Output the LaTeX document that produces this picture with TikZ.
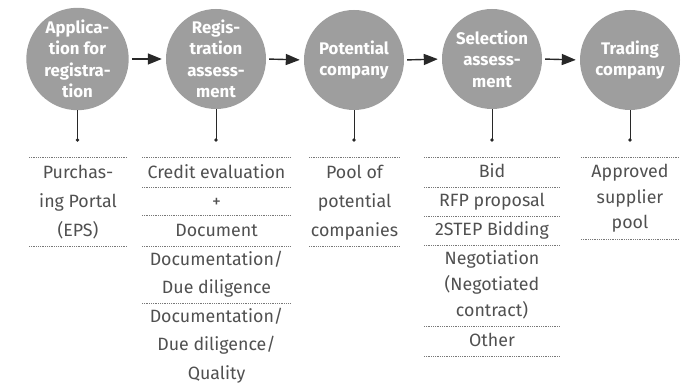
\documentclass[tikz,border=0pt]{standalone}
\usepackage{fontspec}
\setmainfont{Fira Sans}
\usetikzlibrary{arrows.meta}
\definecolor{circfill}{RGB}{158,158,158}
\definecolor{tabtext}{RGB}{80,80,80}
\definecolor{dotline}{RGB}{120,120,120}
\definecolor{darkline}{RGB}{40,40,40}
\tikzset{
  stage/.style={circle, fill=circfill, minimum size=100pt, inner sep=0pt,
    text=white, align=center, font=\bfseries\fontsize{16.8}{21.5}\selectfont},
  flowarrow/.style={draw=darkline, line width=1.4pt,
    -{Triangle[length=14pt,width=11pt]}, shorten <=3pt, shorten >=4pt},
  stem/.style={draw=darkline, line width=1pt},
  dotend/.style={circle, fill=darkline, inner sep=0pt, minimum size=3.6pt},
  rowline/.style={draw=dotline, line width=0.8pt, dash pattern=on 0.9pt off 0.9pt},
  cell/.style={anchor=base, inner sep=0pt, text=tabtext, font=\fontsize{17.8}{20}\selectfont}
}
\begin{document}
\begin{tikzpicture}[x=1pt,y=-1pt]
\useasboundingbox (0,0) rectangle (692,387);
% stages
\node[stage] (s1) at (77.5,59) {Applica-\\tion for\\registra-\\tion};
\node[stage] (s2) at (216,59) {Regis-\\tration\\assess-\\ment};
\node[stage] (s3) at (354,60) {Potential\\company};
\node[stage] (s4) at (492,59) {Selection\\assess-\\ment};
\node[stage] (s5) at (630,60) {Trading\\company};
\foreach \a/\b in {s1/s2,s2/s3,s3/s4,s4/s5}
  \draw[flowarrow] (\a.east) -- (\b.west);
% stems
\foreach \s/\x in {s1/77.5,s2/216,s3/354,s4/492,s5/630}{
  \node[dotend] (d\s) at (\x,140) {};
  \draw[stem] (\s.south) -- (d\s.center);
}
% column 1
\draw[rowline] (29,157) -- (127,157);
\node[cell] (a1) at (78,178.3) {Purchas-};
\node[cell] (a2) at (78,207.3) {ing Portal};
\node[cell] (a3) at (78,236) {(EPS)};
\draw[rowline] (29,246) -- (127,246);
% column 2
\draw[rowline] (142,157) -- (291,157);
\node[cell] (b1) at (216.5,178.3) {Credit evaluation};
\draw[rowline] (142,187.7) -- (291,187.7);
\node[cell] (b2) at (216.5,207.3) {+};
\draw[rowline] (142,215.7) -- (291,215.7);
\node[cell] (b3) at (216.5,236.3) {Document};
\draw[rowline] (142,246) -- (291,246);
\node[cell] (b4) at (216.5,265) {Documentation/};
\node[cell] (b5) at (216.5,293.5) {Due diligence};
\draw[rowline] (142,303.3) -- (291,303.3);
\node[cell] (b6) at (216.5,322) {Documentation/};
\node[cell] (b7) at (216.5,350.5) {Due diligence/};
\node[cell] (b8) at (216.5,379) {Quality};
% column 3
\draw[rowline] (309,157) -- (400,157);
\node[cell] (c1) at (354.5,178.3) {Pool of};
\node[cell] (c2) at (354.5,207.3) {potential};
\node[cell] (c3) at (354.5,236) {companies};
\draw[rowline] (309,246) -- (400,246);
% column 4
\draw[rowline] (424,157) -- (560,157);
\node[cell] (e1) at (492,177.7) {Bid};
\draw[rowline] (424,187.7) -- (560,187.7);
\node[cell] (e2) at (492,206.7) {RFP proposal};
\draw[rowline] (424,216.3) -- (560,216.3);
\node[cell] (e3) at (492,235.7) {2STEP Bidding};
\draw[rowline] (424,245.3) -- (560,245.3);
\node[cell] (e4) at (492,264) {Negotiation};
\node[cell] (e5) at (492,290.7) {(Negotiated};
\node[cell] (e6) at (492,316.7) {contract)};
\draw[rowline] (424,326.7) -- (560,326.7);
\node[cell] (e7) at (492,346) {Other};
\draw[rowline] (424,356) -- (560,356);
% column 5
\draw[rowline] (581,157) -- (679,157);
\node[cell] (f1) at (630,177.7) {Approved};
\node[cell] (f2) at (630,203.3) {supplier};
\node[cell] (f3) at (630,228.3) {pool};
\draw[rowline] (581,239.3) -- (679,239.3);
\end{tikzpicture}
\end{document}
